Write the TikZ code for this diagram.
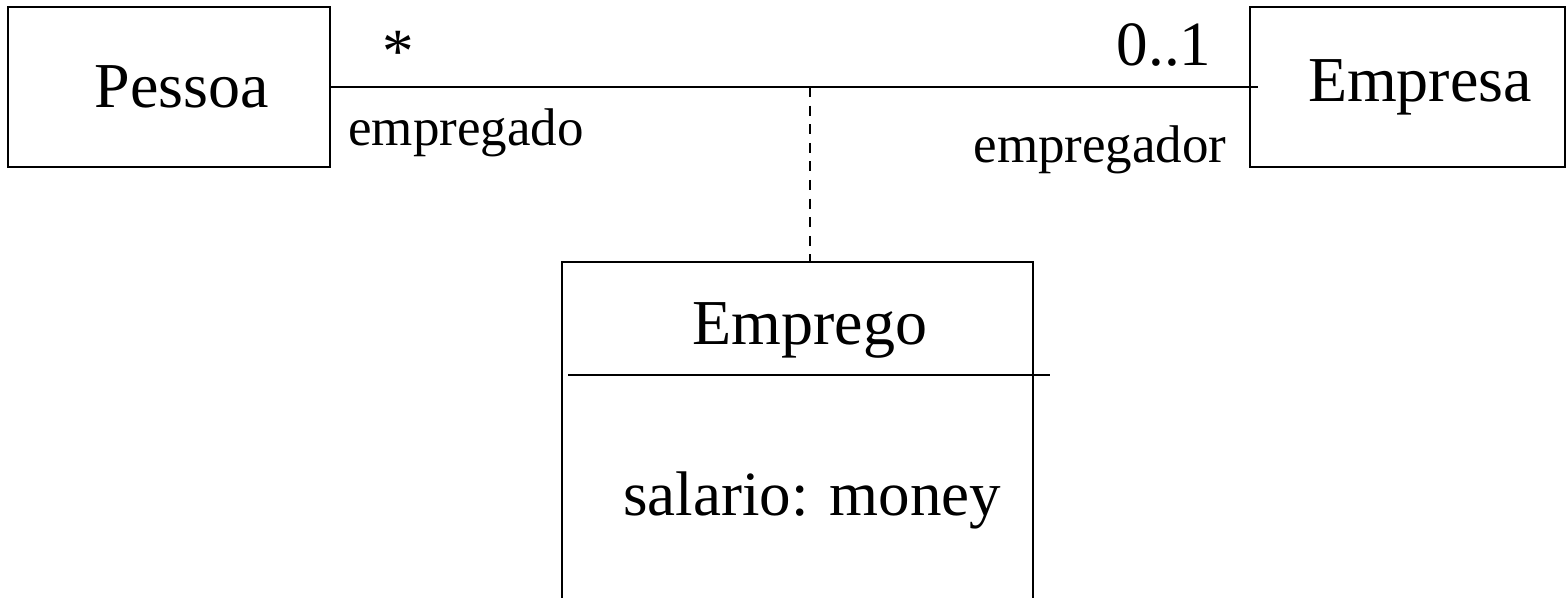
\documentclass[tikz,border=0pt]{standalone}
\usepackage{fontspec}
\setmainfont{Liberation Serif}
\usetikzlibrary{positioning}
\begin{document}
\begin{tikzpicture}[x=0.5pt,y=-0.5pt,line width=1.3pt,
                    cnode/.style = {shape = rectangle,
                                    draw,
                                    inner sep=0pt,
                                    font=\fontsize{32}{38}\selectfont},
                    role/.style = {inner sep=0pt,
                                   font=\fontsize{26.5}{31}\selectfont},
                    mult/.style = {inner sep=0pt,
                                   font=\fontsize{31.5}{37}\selectfont}]
		\useasboundingbox (0,0) rectangle (1566,598);
		\node[cnode, minimum width=161pt, minimum height=80pt] (pessoa) at (169,87) {\hspace*{13pt}Pessoa};
		\node[cnode, minimum width=157.5pt, minimum height=80pt] (empresa) at (1407.5,87) {\hspace*{12.5pt}Empresa};
		\node[cnode, minimum width=235.5pt, minimum height=173pt] (emprego) at (797.5,435) {};
		\node[cnode, draw=none] (nome) at (810,330) {Emprego};
		\node[cnode, draw=none, font=\fontsize{31.5}{37}\selectfont] (attr) at (812,500) {salario: money};
		\coordinate (fim) at (1258,87);
		\coordinate (meio) at (810,87);
		\coordinate (sepa) at (568,375);
		\coordinate (sepb) at (1050,375);
		\path (pessoa.east) edge (fim);
		\path (meio) edge[dash pattern=on 5pt off 4.3pt] (meio |- emprego.north);
		\path (sepa) edge (sepb);
		\node[mult] (mpessoa) at (398,52) {*};
		\node[mult] (mempresa) at (1164,45) {0..1};
		\node[role] (rpessoa) at (466,133) {empregado};
		\node[role] (rempresa) at (1100,150) {empregador};
	\end{tikzpicture}
\end{document}
